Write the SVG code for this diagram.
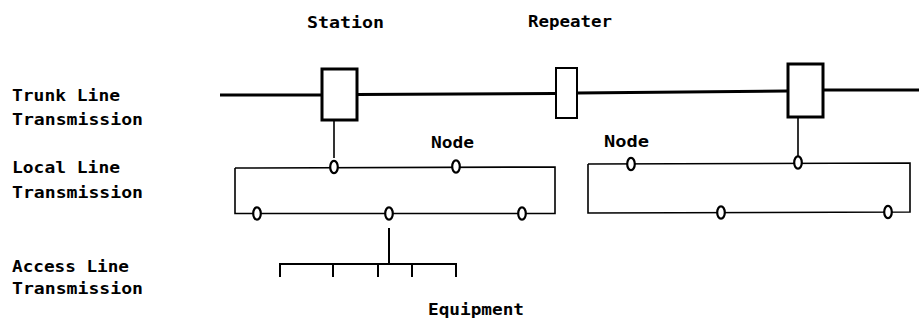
<svg xmlns="http://www.w3.org/2000/svg" width="919" height="324" viewBox="0 0 919 324">
<style>
  .t { font-family: "DejaVu Sans Mono", "Liberation Mono", monospace; font-weight: bold; font-size: 16px; fill: #000; }
  .trunk { stroke: #000; stroke-width: 3; fill: none; }
  .box { stroke: #000; stroke-width: 3; fill: #fff; }
  .rbox { stroke: #000; stroke-width: 2; fill: #fff; }
  .ln { stroke: #000; stroke-width: 1.6; fill: none; }
  .tick { stroke: #000; stroke-width: 2; fill: none; }
  .node { stroke: #000; stroke-width: 2.2; fill: #fff; }
</style>
<rect width="919" height="324" fill="#fff"/>

<g id="labels">
  <text class="t" x="12" y="101" textLength="108" lengthAdjust="spacingAndGlyphs">Trunk Line</text>
  <text class="t" x="12" y="125" textLength="131" lengthAdjust="spacingAndGlyphs">Transmission</text>
  <text class="t" x="12" y="173" textLength="108" lengthAdjust="spacingAndGlyphs">Local Line</text>
  <text class="t" x="12" y="198" textLength="131" lengthAdjust="spacingAndGlyphs">Transmission</text>
  <text class="t" x="12" y="272" textLength="117" lengthAdjust="spacingAndGlyphs">Access Line</text>
  <text class="t" x="12" y="294" textLength="131" lengthAdjust="spacingAndGlyphs">Transmission</text>
  <text class="t" x="307" y="28" textLength="77" lengthAdjust="spacingAndGlyphs">Station</text>
  <text class="t" x="528" y="27" textLength="84" lengthAdjust="spacingAndGlyphs">Repeater</text>
  <text class="t" x="431" y="148" textLength="43" lengthAdjust="spacingAndGlyphs">Node</text>
  <text class="t" x="604" y="147" textLength="45" lengthAdjust="spacingAndGlyphs">Node</text>
  <text class="t" x="428" y="315" textLength="96" lengthAdjust="spacingAndGlyphs">Equipment</text>
</g>

<g id="connectors">
  <path class="trunk" d="M220 95 L322 95 M357 94.5 L555 93.5 M577 93 L787 91 M823 90 L919 90"/>
  <path class="ln" d="M334 120 L334 158 M798 117 L798 156"/>
  <path class="ln" d="M235 168 L235 213.5 L555 213.5 L555 167 L235 168"/>
  <path class="ln" d="M588 164 L588 213 L910 212 L910 163 L588 164"/>
  <path class="tick" d="M389 228 L389 264 M279 264 L457 264 M280 264 L280 277 M333 264 L333 277 M378 264 L378 277 M412 264 L412 277 M456 264 L456 277"/>
</g>

<g id="station-1"><rect class="box" x="322" y="69" width="35" height="51"/></g>
<g id="repeater"><rect class="rbox" x="556" y="68" width="21" height="50"/></g>
<g id="station-2"><rect class="box" x="788" y="64" width="35" height="53"/></g>

<g id="nodes">
  <g id="n1"><ellipse class="node" cx="334" cy="167" rx="3.8" ry="6.2"/></g>
  <g id="n2"><ellipse class="node" cx="456" cy="166.5" rx="3.8" ry="6.2"/></g>
  <g id="n3"><ellipse class="node" cx="257" cy="213.5" rx="3.8" ry="6.2"/></g>
  <g id="n4"><ellipse class="node" cx="389" cy="213.5" rx="3.8" ry="6.2"/></g>
  <g id="n5"><ellipse class="node" cx="522" cy="213.5" rx="3.8" ry="6.2"/></g>
  <g id="n6"><ellipse class="node" cx="631" cy="164" rx="3.8" ry="6.2"/></g>
  <g id="n7"><ellipse class="node" cx="798" cy="162.5" rx="3.8" ry="6.2"/></g>
  <g id="n8"><ellipse class="node" cx="721" cy="212.5" rx="3.8" ry="6.2"/></g>
  <g id="n9"><ellipse class="node" cx="888" cy="212" rx="3.8" ry="6.2"/></g>
</g>
</svg>
